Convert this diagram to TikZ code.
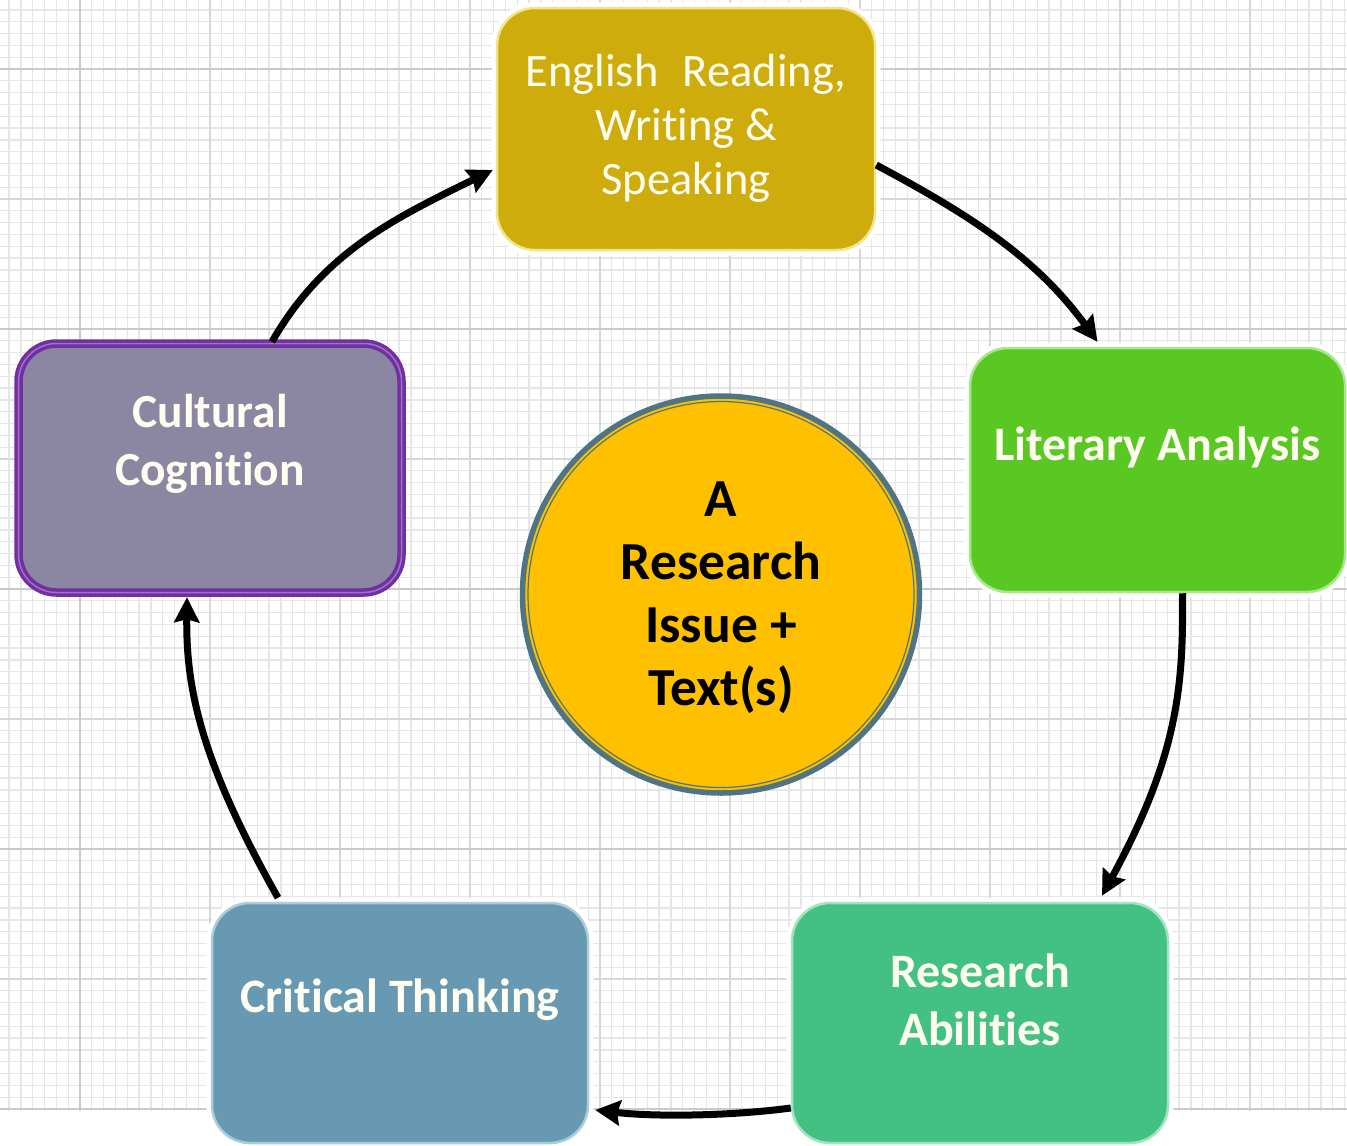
\documentclass[tikz,border=0pt]{standalone}
\usepackage{fontspec}
\setmainfont{Carlito}[Ligatures={NoCommon}]
\usetikzlibrary{arrows.meta}
\definecolor{engfill}{RGB}{205,172,12}
\definecolor{engbd}{RGB}{242,228,140}
\definecolor{litfill}{RGB}{90,200,35}
\definecolor{litbd}{RGB}{168,232,140}
\definecolor{resfill}{RGB}{66,193,130}
\definecolor{resbd}{RGB}{160,228,192}
\definecolor{critfill}{RGB}{103,153,178}
\definecolor{critbd}{RGB}{170,204,220}
\definecolor{cultfill}{RGB}{139,135,163}
\definecolor{cultbd}{RGB}{112,48,160}
\definecolor{cultin}{RGB}{160,112,200}
\definecolor{ctrfill}{RGB}{255,192,0}
\definecolor{ctrbd}{RGB}{79,116,132}
\definecolor{txtc}{RGB}{255,253,240}
\definecolor{gmin}{RGB}{230,230,230}
\definecolor{gmed}{RGB}{215,215,215}
\definecolor{gmaj}{RGB}{202,202,202}
\begin{document}
\begin{tikzpicture}[x=1pt,y=-1pt,
  halo/.style={preaction={draw=white, line width=11pt}},
  box/.style={rectangle, rounded corners=38pt, inner sep=0pt, line width=2.5pt},
  txt/.style={text=txtc, align=center, inner sep=0pt},
  arr/.style={line width=7pt, black, -{Stealth[length=25pt,width=25pt,inset=3pt]}},
  minl/.style={draw=gmin, line width=1.3pt},
  medl/.style={draw=gmed, line width=1.5pt},
  majl/.style={draw=gmaj, line width=2pt}]
\useasboundingbox (0,0) rectangle (1347,1146);
\fill[white] (0,0) rectangle (1347,1146);
% grid
\foreach \i in {0,...,113} \draw[minl] ({9.1+\i*11.818},0) -- ({9.1+\i*11.818},1111);
\foreach \j in {0,...,93} \draw[minl] (0,{9.9+\j*11.818}) -- (1347,{9.9+\j*11.818});
\foreach \k in {0,...,9} \draw[medl] ({80+\k*130},0) -- ({80+\k*130},1111);
\foreach \k in {0,...,8} \draw[medl] (0,{69+\k*130}) -- (1347,{69+\k*130});
\foreach \k in {0,...,4} \draw[majl] (0,{69+\k*260}) -- (1347,{69+\k*260});
\draw[majl] (80,0) -- (80,1111);
% boxes
\node[box, halo, fill=engfill, draw=engbd, minimum width=378pt, minimum height=242pt] (eng) at (686,129) {};
\node[box, halo, fill=litfill, draw=litbd, minimum width=375pt, minimum height=244pt] (lit) at (1157.5,470) {};
\node[box, halo, fill=resfill, draw=resbd, minimum width=376pt, minimum height=240pt] (res) at (980,1023) {};
\node[box, halo, fill=critfill, draw=critbd, minimum width=376pt, minimum height=240pt] (crit) at (400,1023) {};
\node[box, fill=cultfill, draw=cultbd, line width=3.5pt, double=cultin, double distance=1.5pt, minimum width=383pt, minimum height=249pt] (cult) at (210,468) {};
\node[circle, fill=ctrfill, draw=ctrbd, line width=5.5pt, minimum size=397pt, inner sep=0pt] (ctr) at (721,594.5) {};
\draw[ctrbd, line width=1.2pt] (ctr.center) circle[radius=193pt];
% texts
\node[txt, font=\fontsize{46.5}{54}\selectfont] (engT) at ([yshift=1pt]eng.center) {English\hspace{0.3em} Reading,\\Writing \&\\Speaking};
\node[txt, font=\bfseries\fontsize{48}{57}\selectfont] (litT) at ([yshift=23pt]lit.center) {Literary Analysis};
\node[txt, font=\bfseries\fontsize{48}{58}\selectfont] (resT) at ([yshift=23pt]res.center) {Research\\Abilities};
\node[txt, font=\bfseries\fontsize{48}{58}\selectfont] (critT) at ([yshift=23pt]crit.center) {Critical Thinking};
\node[txt, font=\bfseries\fontsize{47.5}{58}\selectfont] (cultT) at ([yshift=24pt]cult.center) {Cultural\\Cognition};
\node[align=center, inner sep=0pt, text=black, font=\bfseries\fontsize{53.5}{63}\selectfont] (ctrT) at ([yshift=-3pt]ctr.center) {A\\Research\\Issue +\\Text(s)};
% arrows
\draw[arr] ([xshift=62pt]cult.north) .. controls +(52,-91) and +(-95,47) .. ([yshift=-41pt,xshift=-3pt]eng.west);
\draw[arr] ([yshift=-36pt]eng.east) .. controls +(92,49) and +(-62,-85) .. ([xshift=-60pt,yshift=5pt]lit.north);
\draw[arr] ([xshift=25pt]lit.south) .. controls +(1,93) and +(76,-140) .. ([xshift=122pt,yshift=6pt]res.north);
\draw[arr] ([yshift=-85pt]res.west) .. controls +(-60,8) and +(60,7) .. ([yshift=-87pt,xshift=6pt]crit.east);
\draw[arr] ([xshift=-122pt,yshift=4pt]crit.north) .. controls +(-78,-138) and +(-1,90) .. ([xshift=-23pt,yshift=-3pt]cult.south);
\end{tikzpicture}
\end{document}
